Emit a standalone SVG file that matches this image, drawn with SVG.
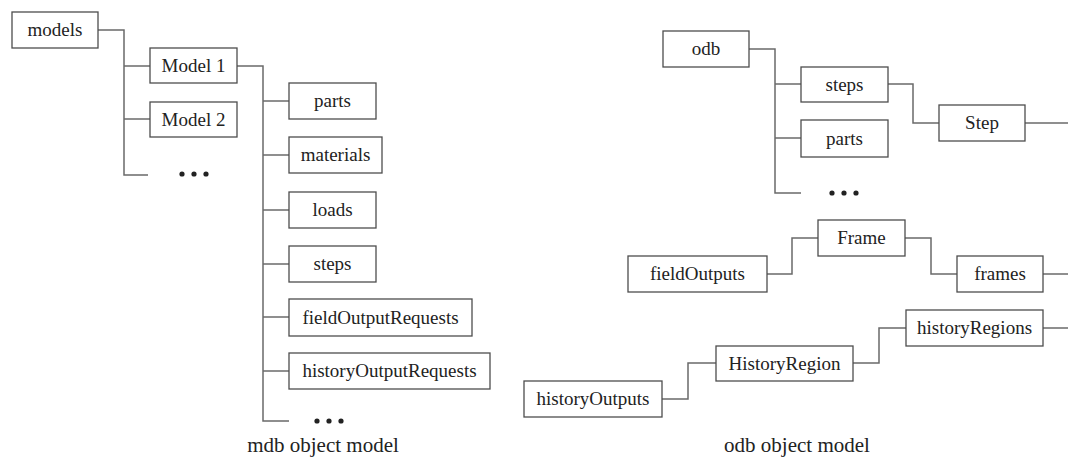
<svg xmlns="http://www.w3.org/2000/svg" width="1068" height="459" viewBox="0 0 1068 459" font-family="Liberation Serif, Times New Roman, Times, Tinos, Noto Serif, DejaVu Serif, FreeSerif, serif">
  <style>
    .box rect { fill: #ffffff; stroke: #4d4d4d; stroke-width: 1.3; }
    .box text { font-size: 19px; fill: #222222; text-anchor: middle; }
    .wire { fill: none; stroke: #6a6a6a; stroke-width: 1.5; }
    .dots circle { fill: #222222; }
    .caption { font-size: 21px; fill: #222222; text-anchor: middle; }
  </style>
  <rect width="1068" height="459" fill="#ffffff"/>

  <!-- connectors -->
  <g id="connectors" class="wire">
    <!-- mdb tree -->
    <path d="M98 30 H124 V175 H148"/>
    <path d="M124 66 H150"/>
    <path d="M124 119 H150"/>
    <path d="M237 66 H263 V421 H289"/>
    <path d="M263 101 H289"/>
    <path d="M263 155 H289"/>
    <path d="M263 210 H289"/>
    <path d="M263 264 H289"/>
    <path d="M263 317 H289"/>
    <path d="M263 371 H289"/>
    <!-- odb tree -->
    <path d="M749 49 H775 V193 H801"/>
    <path d="M775 84 H801"/>
    <path d="M775 138 H801"/>
    <path d="M888 84 H913 V123 H939"/>
    <path d="M1025 123 H1068"/>
    <path d="M767 274 H792 V238 H818"/>
    <path d="M905 238 H931 V274 H957"/>
    <path d="M1043 274 H1068"/>
    <path d="M662 399 H688 V363 H716"/>
    <path d="M853 363 H879 V328 H906"/>
    <path d="M1043 328 H1068"/>
  </g>

  <!-- mdb object model -->
  <g id="models" class="box"><rect x="12" y="12" width="86" height="36"/><text x="55" y="36">models</text></g>
  <g id="model1" class="box"><rect x="150" y="48" width="87" height="35"/><text x="193.5" y="72">Model 1</text></g>
  <g id="model2" class="box"><rect x="150" y="102" width="87" height="35"/><text x="193.5" y="126">Model 2</text></g>
  <g id="models-more" class="dots"><circle cx="182" cy="174" r="2.6"/><circle cx="194" cy="174" r="2.6"/><circle cx="206" cy="174" r="2.6"/></g>

  <g id="mdb-parts" class="box"><rect x="289" y="83" width="87" height="36"/><text x="332.5" y="107">parts</text></g>
  <g id="mdb-materials" class="box"><rect x="289" y="137" width="93" height="36"/><text x="335.5" y="161">materials</text></g>
  <g id="mdb-loads" class="box"><rect x="289" y="192" width="87" height="36"/><text x="332.5" y="216">loads</text></g>
  <g id="mdb-steps" class="box"><rect x="289" y="246" width="87" height="36"/><text x="332.5" y="270">steps</text></g>
  <g id="fieldOutputRequests" class="box"><rect x="289" y="299" width="183" height="37"/><text x="380.5" y="324">fieldOutputRequests</text></g>
  <g id="historyOutputRequests" class="box"><rect x="289" y="353" width="201" height="36"/><text x="389.5" y="377">historyOutputRequests</text></g>
  <g id="model-more" class="dots"><circle cx="317" cy="421" r="2.6"/><circle cx="329" cy="421" r="2.6"/><circle cx="341" cy="421" r="2.6"/></g>
  <text class="caption" x="323" y="452">mdb object model</text>

  <!-- odb object model -->
  <g id="odb" class="box"><rect x="663" y="31" width="86" height="36"/><text x="706" y="55">odb</text></g>
  <g id="odb-steps" class="box"><rect x="801" y="67" width="87" height="35"/><text x="844.5" y="91">steps</text></g>
  <g id="odb-parts" class="box"><rect x="801" y="120" width="87" height="37"/><text x="844.5" y="145">parts</text></g>
  <g id="odb-more" class="dots"><circle cx="832" cy="193" r="2.6"/><circle cx="844" cy="193" r="2.6"/><circle cx="856" cy="193" r="2.6"/></g>
  <g id="step" class="box"><rect x="939" y="105" width="86" height="36"/><text x="982" y="129">Step</text></g>
  <g id="frame" class="box"><rect x="818" y="220" width="87" height="36"/><text x="861.5" y="244">Frame</text></g>
  <g id="frames" class="box"><rect x="957" y="256" width="86" height="36"/><text x="1000" y="280">frames</text></g>
  <g id="fieldOutputs" class="box"><rect x="628" y="256" width="139" height="36"/><text x="697.5" y="280">fieldOutputs</text></g>
  <g id="historyRegions" class="box"><rect x="906" y="310" width="137" height="36"/><text x="974.5" y="334">historyRegions</text></g>
  <g id="historyRegion" class="box"><rect x="716" y="346" width="137" height="35"/><text x="784.5" y="370">HistoryRegion</text></g>
  <g id="historyOutputs" class="box"><rect x="524" y="381" width="138" height="36"/><text x="593" y="405">historyOutputs</text></g>
  <text class="caption" x="797" y="452">odb object model</text>
</svg>
